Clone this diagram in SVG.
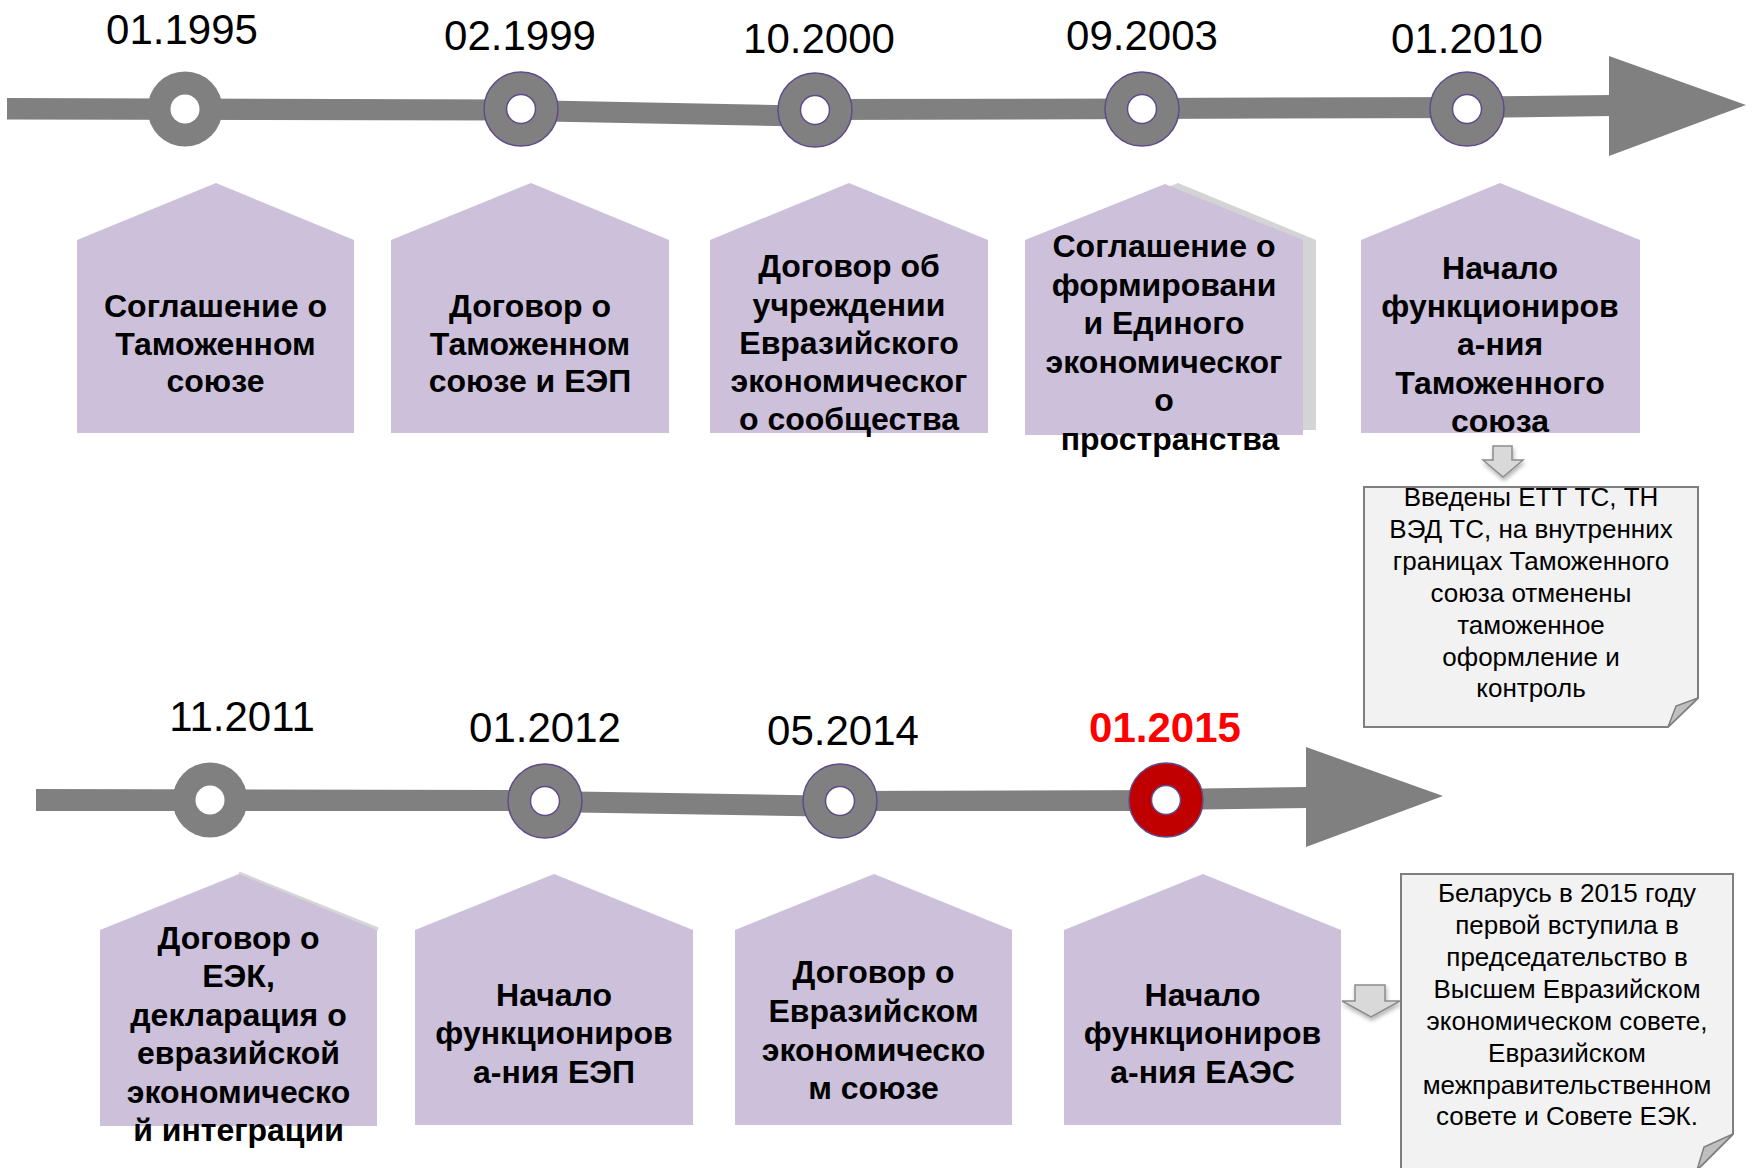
<svg xmlns="http://www.w3.org/2000/svg" width="1752" height="1168" viewBox="0 0 1752 1168">
<defs>
<style>
.bar{fill:#808080}
.house{fill:#ccc0da}
.ring{fill:#808080;stroke:#5f4b8b;stroke-width:1.5}
.ring0{fill:#808080}
.hole{fill:#ffffff;stroke:#5f4b8b;stroke-width:1.5}
.hole0{fill:#ffffff}
.date{font-family:"Liberation Sans",Arial,sans-serif;font-size:42px;fill:#000;text-anchor:middle}
.red{fill:#ff0000;font-weight:bold}
.ht{font-family:"Liberation Sans",Arial,sans-serif;font-size:32px;font-weight:bold;fill:#000;text-anchor:middle}
.ct{font-family:"Liberation Sans",Arial,sans-serif;font-size:26px;fill:#000;text-anchor:middle}
.note{fill:#f2f2f2;stroke:#7f7f7f;stroke-width:2}
.fold{fill:#bfbfbf;stroke:#7f7f7f;stroke-width:1.5}
.darr{fill:#d9d9d9;stroke:#8c8c8c;stroke-width:1.5}
</style>
<filter id="sh" x="-30%" y="-30%" width="160%" height="160%">
<feDropShadow dx="1" dy="3" stdDeviation="2" flood-color="#000" flood-opacity="0.3"/>
</filter>
</defs>
<rect width="1752" height="1168" fill="#ffffff"/>

<g id="connectors">
<polygon class="bar" points="7,98 540,99.5 540,120.5 7,119.5"/>
<polygon class="bar" points="521,100 800,105.5 800,126.5 521,121"/>
<polygon class="bar" points="815,99 1160,98.5 1160,119 815,120"/>
<polygon class="bar" points="1142,98 1480,97 1480,118 1142,119"/>
<polygon class="bar" points="1467,96.5 1612,95 1612,116 1467,118"/>
<polygon class="bar" points="1609,56 1746,105 1609,156"/>
<polygon class="bar" points="36,789 560,790 560,811 36,811"/>
<polygon class="bar" points="545,791 820,795.5 820,816.5 545,812"/>
<polygon class="bar" points="840,791 1180,790 1180,811 840,811"/>
<polygon class="bar" points="1166,789 1308,787 1308,808 1166,810"/>
<polygon class="bar" points="1306,747 1443,796 1306,847"/>
<path class="darr" filter="url(#sh)" d="M1493,446 H1512 V460 H1523 L1503,477 L1483,460 H1493 Z"/>
<path class="darr" filter="url(#sh)" d="M1355,985 H1385 V1001 H1400 L1371,1017 L1342,1001 H1355 Z"/>
</g>

<g id="markers">
<g id="m1995"><circle class="ring0" cx="185" cy="109" r="37.5"/><circle class="hole0" cx="185" cy="109" r="14.5"/><text class="date" x="182" y="44">01.1995</text></g>
<g id="m1999"><circle class="ring" cx="521" cy="109" r="37"/><circle class="hole" cx="521" cy="109" r="14.5"/><text class="date" x="520" y="50">02.1999</text></g>
<g id="m2000"><circle class="ring" cx="815" cy="110" r="37"/><circle class="hole" cx="815" cy="110" r="14.5"/><text class="date" x="819" y="53">10.2000</text></g>
<g id="m2003"><circle class="ring" cx="1142" cy="109" r="37"/><circle class="hole" cx="1142" cy="109" r="14.5"/><text class="date" x="1142" y="50">09.2003</text></g>
<g id="m2010"><circle class="ring" cx="1467" cy="109" r="37"/><circle class="hole" cx="1467" cy="109" r="14.5"/><text class="date" x="1467" y="53">01.2010</text></g>
<g id="m2011"><circle class="ring0" cx="210" cy="800" r="37.5"/><circle class="hole0" cx="210" cy="800" r="14.5"/><text class="date" x="242" y="731">11.2011</text></g>
<g id="m2012"><circle class="ring" cx="545" cy="801" r="37"/><circle class="hole" cx="545" cy="801" r="14.5"/><text class="date" x="545" y="742">01.2012</text></g>
<g id="m2014"><circle class="ring" cx="840" cy="801" r="37"/><circle class="hole" cx="840" cy="801" r="14.5"/><text class="date" x="843" y="745">05.2014</text></g>
<g id="m2015"><circle cx="1166" cy="800" r="37" fill="#c00000" stroke="#5f4b8b" stroke-width="1.5"/><circle class="hole" cx="1166" cy="800" r="14.5"/><text class="date red" x="1165" y="742">01.2015</text></g>
</g>

<g id="h1">
<path class="house" d="M77,240 L216,183 L354,240 V433 H77 Z"/>
<text class="ht" x="215.5" y="317">Соглашение о</text>
<text class="ht" x="215.5" y="355">Таможенном</text>
<text class="ht" x="215.5" y="392">союзе</text>
</g>
<g id="h2">
<path class="house" d="M391,240 L531,183 L669,240 V433 H391 Z"/>
<text class="ht" x="530" y="317">Договор о</text>
<text class="ht" x="530" y="355">Таможенном</text>
<text class="ht" x="530" y="392">союзе и ЕЭП</text>
</g>
<g id="h3">
<path class="house" d="M710,240 L849,183 L988,240 V433 H710 Z"/>
<text class="ht" x="849" y="277">Договор об</text>
<text class="ht" x="849" y="316">учреждении</text>
<text class="ht" x="849" y="354">Евразийского</text>
<text class="ht" x="849" y="392">экономическог</text>
<text class="ht" x="849" y="430">о сообщества</text>
</g>
<g id="h4">
<path d="M1038,240 L1178,183 L1316,240 V430 H1038 Z" fill="#d4d4d4"/>
<path class="house" d="M1025,240 L1165,184 L1303,240 V435 H1025 Z"/>
<text class="ht" x="1164" y="257">Соглашение о</text>
<text class="ht" x="1164" y="295.5">формировани</text>
<text class="ht" x="1164" y="334">и Единого</text>
<text class="ht" x="1164" y="372.5">экономическог</text>
<text class="ht" x="1164" y="411">о</text>
<text class="ht" x="1170" y="449.5">пространства</text>
</g>
<g id="h5">
<path class="house" d="M1361,240 L1500,183 L1640,240 V433 H1361 Z"/>
<text class="ht" x="1500" y="279">Начало</text>
<text class="ht" x="1500" y="317">функциониров</text>
<text class="ht" x="1500" y="355">а-ния</text>
<text class="ht" x="1500" y="394">Таможенного</text>
<text class="ht" x="1500" y="432">союза</text>
</g>

<g id="note1">
<path class="note" d="M1364,487 H1698 V698 L1668,727 H1364 Z"/>
<path class="fold" d="M1698,698 L1676,706 L1668,727 Z"/>
<text class="ct" x="1531" y="506">Введены ЕТТ ТС, ТН</text>
<text class="ct" x="1531" y="538">ВЭД ТС, на внутренних</text>
<text class="ct" x="1531" y="570">границах Таможенного</text>
<text class="ct" x="1531" y="602">союза отменены</text>
<text class="ct" x="1531" y="634">таможенное</text>
<text class="ct" x="1531" y="666">оформление и</text>
<text class="ct" x="1531" y="697">контроль</text>
</g>

<g id="b1">
<path d="M239,873 L378,929" fill="none" stroke="#d6d6d6" stroke-width="3"/>
<path class="house" d="M100,930 L239,874 L377,930 V1126 H100 Z"/>
<text class="ht" x="238.5" y="949">Договор о</text>
<text class="ht" x="238.5" y="987">ЕЭК,</text>
<text class="ht" x="238.5" y="1026">декларация о</text>
<text class="ht" x="238.5" y="1064">евразийской</text>
<text class="ht" x="238.5" y="1103">экономическо</text>
<text class="ht" x="238.5" y="1141">й интеграции</text>
</g>
<g id="b2">
<path class="house" d="M415,930 L554,874 L693,930 V1125 H415 Z"/>
<text class="ht" x="554" y="1006">Начало</text>
<text class="ht" x="554" y="1044">функциониров</text>
<text class="ht" x="554" y="1083">а-ния ЕЭП</text>
</g>
<g id="b3">
<path class="house" d="M735,930 L874,874 L1012,930 V1125 H735 Z"/>
<text class="ht" x="873.5" y="983">Договор о</text>
<text class="ht" x="873.5" y="1022">Евразийском</text>
<text class="ht" x="873.5" y="1061">экономическо</text>
<text class="ht" x="873.5" y="1099">м союзе</text>
</g>
<g id="b4">
<path class="house" d="M1064,930 L1203,874 L1341,930 V1125 H1064 Z"/>
<text class="ht" x="1202.5" y="1006">Начало</text>
<text class="ht" x="1202.5" y="1044">функциониров</text>
<text class="ht" x="1202.5" y="1083">а-ния ЕАЭС</text>
</g>

<g id="note2">
<path class="note" d="M1401,874 H1733 V1134 L1697,1170 H1401 Z"/>
<path class="fold" d="M1733,1134 L1704,1147 L1697,1170 Z"/>
<text class="ct" x="1567" y="902">Беларусь в 2015 году</text>
<text class="ct" x="1567" y="934">первой вступила в</text>
<text class="ct" x="1567" y="966">председательство в</text>
<text class="ct" x="1567" y="998">Высшем Евразийском</text>
<text class="ct" x="1567" y="1030">экономическом совете,</text>
<text class="ct" x="1567" y="1062">Евразийском</text>
<text class="ct" x="1567" y="1094">межправительственном</text>
<text class="ct" x="1567" y="1125">совете и Совете ЕЭК.</text>
</g>
</svg>
